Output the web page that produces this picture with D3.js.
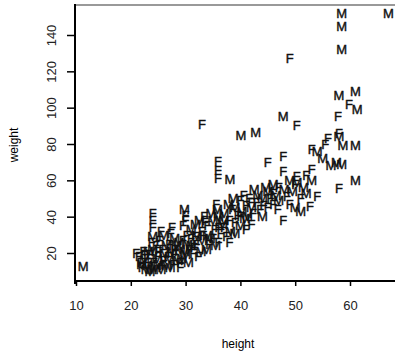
<!DOCTYPE html>
<html>
<head>
<meta charset="utf-8">
<script src="https://cdn.jsdelivr.net/npm/d3@7"></script>
<style>
    body { margin: 0; background: #fff; }
    text { font-family: "Liberation Sans", Arial, sans-serif; }
</style>
</head>
<body>
<div id="chart"></div>
<script>
// height (x), weight (y) and sex label for each child
const heights = [
    11.3,
    21.0, 21.5, 22, 22, 22.5, 21.8, 22.8, 22.3,
    23, 23, 23.5, 23.5, 24, 24, 24, 24, 24.2, 24.5, 23.8, 24, 24.6, 23.2,
    25, 25, 25.3, 25.5, 25.8, 26, 26, 26.2, 25.5, 26.5,
    27, 27, 27.3, 27.5, 27.8, 28, 28, 28.3, 27.5, 28.6,
    29, 29, 29.5, 29.8, 30, 30, 30, 30.2, 30.4, 29.5, 29.3, 30.6,
    31, 31, 31.4, 31.8, 32, 32, 32.3, 32.5, 31.5,
    33, 33, 33.4, 33.8, 34, 34, 34.3, 34.6, 33.5,
    35, 35, 35.3, 35.8, 36, 36, 36.4, 36.7, 35.6,
    37, 37, 37.4, 37.8, 38, 38.2, 38.5, 38.7,
    39, 39, 39.5, 40, 40, 40.3, 40.6, 40.8,
    41, 41.3, 41.6, 42, 42, 42.5, 42.3,
    43, 43.2, 43.6, 44, 44.2, 44.6,
    45, 45.5, 46, 46, 46.5, 47, 47, 47.8, 46.8,
    48, 48.5, 49, 49, 49.5, 50, 50, 50.3, 51,
    51, 51.5, 52, 52, 52.7, 53, 53, 54, 53, 54, 55.5, 55, 56.5, 57.5, 58.5,
    58.5, 58.5, 67, 58.5, 49, 58, 61, 59.8, 61.3, 47.8, 50.3, 57.8, 58, 58, 58.7, 61, 56,
    58, 61, 33, 40.1, 42.8, 35.9, 35.9, 35.9, 38.1, 45, 47.8, 47.8, 50.3,
    22.5, 23, 23.8, 24.8, 25, 25.8, 26.5, 26.8, 27.2, 28, 28.8, 29, 29.8, 30.5, 31,
    31.8, 32.8, 33.2, 34.5, 35.5, 36, 37, 38, 39, 40, 41, 42, 44, 45, 46
];
const weights = [
    12.8,
    20, 18, 14, 12, 16, 15, 11, 21,
    17, 13, 19, 10, 42, 38, 34, 22, 15, 12, 26, 29, 24, 21,
    18, 14, 27, 11, 22, 30, 16, 20, 32, 13,
    25, 17, 31, 21, 14, 28, 19, 24, 34, 16,
    12, 22, 27, 44, 38, 41, 19, 30, 25, 35, 17, 22,
    28, 33, 20, 36, 25, 30, 18, 38, 23,
    32, 27, 40, 22, 35, 30, 25, 42, 37,
    28, 38, 33, 44, 26, 40, 31, 36, 47,
    34, 42, 29, 47, 38, 32, 44, 50,
    37, 45, 41, 35, 49, 43, 52, 39,
    46, 40, 50, 45, 36, 55, 42,
    48, 52, 44, 50, 46, 56,
    54, 50, 58, 47, 52, 56, 49, 38, 44,
    55, 51, 60, 47, 54, 58, 45, 62, 43,
    50, 56, 63, 53, 45.5, 66, 60, 51, 77, 76, 80, 72, 68, 70, 69,
    152, 145, 152, 132, 127, 107, 109, 102, 99, 95.5, 90.5, 95, 86, 84, 79, 79, 83,
    55.5, 60, 91, 85, 86.7, 70.5, 65.5, 61, 60.5, 70, 73, 65, 59,
    19, 15, 11, 17, 21, 13, 24, 18, 12, 22, 26, 15, 21, 15, 24,
    29, 21, 30, 28, 24, 34, 38, 26, 31, 40, 33, 48, 40, 45, 53
];
const sexes = [
    "M",
    "F", "F", "M", "F", "M", "F", "M", "F",
    "F", "M", "F", "M", "F", "F", "F", "M", "F", "M", "F", "M", "F", "M",
    "F", "M", "F", "M", "F", "M", "F", "M", "F", "M",
    "F", "M", "F", "M", "F", "M", "F", "M", "F", "M",
    "F", "M", "F", "M", "F", "F", "M", "F", "M", "F", "M", "F",
    "F", "M", "F", "M", "F", "M", "F", "M", "F",
    "F", "M", "F", "M", "F", "M", "F", "M", "F",
    "F", "M", "F", "M", "F", "M", "F", "M", "F",
    "F", "M", "F", "M", "F", "M", "F", "M",
    "F", "M", "F", "M", "F", "M", "F", "M",
    "F", "M", "F", "M", "F", "M", "F",
    "F", "M", "F", "M", "F", "M",
    "M", "F", "M", "F", "M", "F", "M", "F", "F",
    "M", "F", "M", "F", "M", "F", "M", "F", "M",
    "F", "M", "F", "M", "F", "F", "M", "F", "F", "M", "F", "M", "M", "M", "M",
    "M", "M", "M", "M", "F", "M", "M", "F", "M", "M", "F", "F", "F", "M", "M", "M", "F",
    "F", "M", "F", "M", "M", "F", "F", "F", "M", "F", "F", "F", "M",
    "F", "F", "M", "M", "F", "F", "M", "F", "M", "F", "M", "F", "M", "M", "M",
    "F", "M", "F", "M", "M", "F", "M", "F", "M", "F", "F", "F", "M", "F", "F"
];
const xTicks = [10, 20, 30, 40, 50, 60];
const yTicks = [20, 40, 60, 80, 100, 120, 140];

const width = 395, height = 354;
const plotLeft = 75, plotBottom = 281, plotTop = 5;

let svg = d3.select("#chart").append("svg")
    .attr("width", width)
    .attr("height", height);

// scales
let x = d3.scaleLinear().domain([10, 60]).range([76, 350]);
let y = d3.scaleLinear().domain([20, 140]).range([253, 35]);

// frame: grey top line, black left and bottom axes
svg.append("line")
    .attr("x1", plotLeft).attr("x2", width)
    .attr("y1", plotTop).attr("y2", plotTop)
    .attr("stroke", "#999").attr("stroke-width", 2);

// y axis
let yAxis = svg.append("g")
    .attr("transform", `translate(${plotLeft}, 0)`)
    .call(d3.axisLeft(y).tickValues(yTicks).tickSize(8).tickSizeOuter(0));
yAxis.select(".domain").remove();
yAxis.selectAll(".tick line").attr("stroke", "#000").attr("stroke-width", 1.5);
yAxis.selectAll(".tick text")
    .attr("x", 0).attr("dy", 0)
    .attr("transform", "translate(-24, 0) rotate(-90)")
    .attr("text-anchor", "middle")
    .attr("dominant-baseline", "central")
    .style("font-size", "13px")
    .style("font-family", "Liberation Sans, Arial, sans-serif")
    .attr("fill", "#222");

svg.append("line")
    .attr("x1", plotLeft).attr("x2", plotLeft)
    .attr("y1", plotTop - 1).attr("y2", plotBottom + 3)
    .attr("stroke", "#000").attr("stroke-width", 2);

// x axis
let xAxis = svg.append("g")
    .attr("transform", `translate(0, ${plotBottom})`)
    .call(d3.axisBottom(x).tickValues(xTicks).tickSize(5).tickSizeOuter(0));
xAxis.select(".domain").remove();
xAxis.selectAll(".tick line").attr("stroke", "#000").attr("stroke-width", 1.5);
xAxis.selectAll(".tick text")
    .attr("y", 29).attr("dy", 0)
    .style("font-size", "13px")
    .style("font-family", "Liberation Sans, Arial, sans-serif")
    .attr("fill", "#222");

svg.append("line")
    .attr("x1", plotLeft).attr("x2", width)
    .attr("y1", plotBottom).attr("y2", plotBottom)
    .attr("stroke", "#000").attr("stroke-width", 2);

// axis titles
svg.append("text")
    .attr("x", 238).attr("y", 348)
    .attr("text-anchor", "middle")
    .style("font-size", "12px")
    .text("height");

svg.append("text")
    .attr("transform", "translate(18, 145) rotate(-90)")
    .attr("text-anchor", "middle")
    .style("font-size", "12px")
    .text("weight");

// points drawn as their sex letter
let points = heights.map((h, i) => ({h: h, w: weights[i], s: sexes[i]}));

svg.selectAll(".pt").data(points)
    .enter()
    .append("text")
    .attr("class", "pt")
    .attr("x", d => x(d.h))
    .attr("y", d => y(d.w))
    .attr("dy", "0.36em")
    .attr("text-anchor", "middle")
    .style("font-size", "13px")
    .attr("fill", "#111")
    .attr("stroke", "#111")
    .attr("stroke-width", 0.4)
    .text(d => d.s);
</script>
</body>
</html>
